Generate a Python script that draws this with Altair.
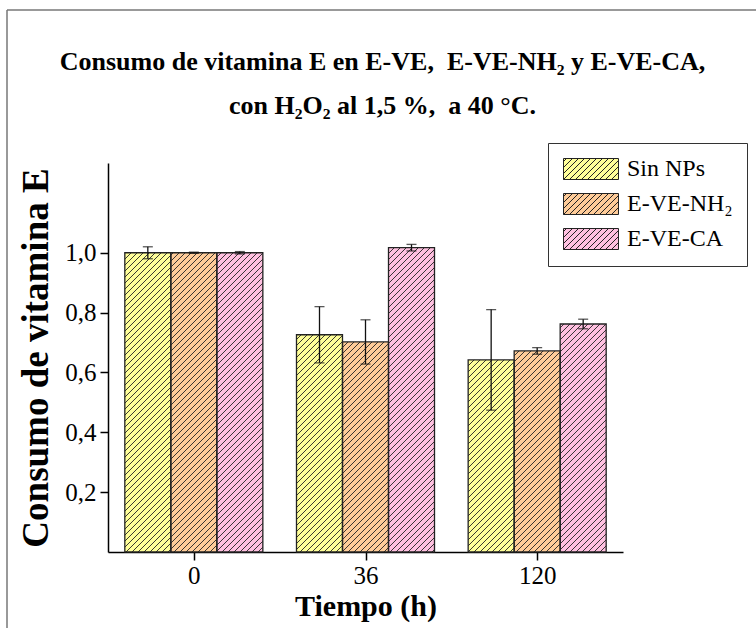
import json
import math
import pandas as pd
import altair as alt

# ---------------- data ----------------
tiempos = ["0", "36", "120"]
series = ["Sin NPs", "E-VE-NH\u2082", "E-VE-CA"]
colors = ["#FFFF99", "#FFCC99", "#FFC0E0"]

sin_nps = [1.000, 0.726, 0.642]
sin_nps_err = [0.020, 0.094, 0.168]
nh2 = [1.000, 0.702, 0.672]
nh2_err = [0.002, 0.074, 0.011]
ca = [1.000, 1.017, 0.762]
ca_err = [0.004, 0.011, 0.016]

y_ticks = [0.2, 0.4, 0.6, 0.8, 1.0]

title_lines = ["Consumo de vitamina E en E-VE,\u00a0 E-VE-NH\u2082 y E-VE-CA,",
               "con H\u2082O\u2082 al 1,5 %,\u00a0 a 40 \u00b0C."]

# ---------------- layout / style ----------------
FONT = "'Liberation Serif', 'Times New Roman', 'DejaVu Serif', serif"
W, H = 515, 389
Y_MAX = 1.3
BAR_W = 0.268          # bar width as fraction of a group step
HATCH = 6.0            # hatch spacing (px, horizontal)
PX_X = W / len(tiempos)
PX_Y = H / Y_MAX

vals = [sin_nps, nh2, ca]
errs = [sin_nps_err, nh2_err, ca_err]

rows = []
for s, name in enumerate(series):
    for t, tl in enumerate(tiempos):
        xc = t + (s - 1) * BAR_W
        rows.append(dict(serie=name, tiempo=tl, xc=xc, xl=xc - BAR_W / 2,
                         xr=xc + BAR_W / 2, value=vals[s][t], y0=0.0,
                         lo=vals[s][t] - errs[s][t], hi=vals[s][t] + errs[s][t]))
df = pd.DataFrame(rows)

# hatch segments ("/" at 45 degrees in screen space), clipped to each bar
hrows = []
for r in rows:
    X0 = (r["xl"] + 0.5) * PX_X
    X1 = (r["xr"] + 0.5) * PX_X
    Ht = r["value"] * PX_Y
    k0 = math.floor(-X1 / HATCH)
    k1 = math.ceil((Ht - X0) / HATCH)
    for k in range(k0, k1 + 1):
        c = k * HATCH
        xa = max(X0, -c)
        xb = min(X1, Ht - c)
        if xb - xa > 0.4:
            hrows.append(dict(hx1=xa / PX_X - 0.5, hy1=(xa + c) / PX_Y,
                              hx2=xb / PX_X - 0.5, hy2=(xb + c) / PX_Y))
hdf = pd.DataFrame(hrows)

# legend symbol: hatched rectangle as a custom path
R = 10.5
LW, LH = 55.0, 21.0
def u(px, py):
    return f"{px / R - 1:.3f},{1 - py / R:.3f}"
path = f"M{u(0,0)}L{u(LW,0)}L{u(LW,LH)}L{u(0,LH)}Z"
for k in range(math.floor(-LW / HATCH), math.ceil(LH / HATCH) + 1):
    c = k * HATCH
    xa = max(0.0, -c)
    xb = min(LW, LH - c)
    if xb - xa > 0.4:
        path += f"M{u(xa, xa + c)}L{u(xb, xb + c)}"

x_scale = alt.Scale(domain=[-0.5, len(tiempos) - 0.5], nice=False, zero=False)
y_scale = alt.Scale(domain=[0, Y_MAX], nice=False)

x_axis = alt.Axis(values=list(range(len(tiempos))),
                  labelExpr=json.dumps(tiempos) + "[datum.value]",
                  title="Tiempo (h)", titleFont=FONT, titleFontSize=30,
                  titleFontWeight="bold", titleColor="black", titlePadding=3,
                  labelFont=FONT, labelFontSize=25, labelColor="black",
                  labelPadding=3, labelFlush=False,
                  tickSize=8, tickWidth=1.5, tickColor="black",
                  domainColor="black", domainWidth=1.5, grid=False)
y_axis = alt.Axis(values=y_ticks,
                  labelExpr="replace(format(datum.value, '.1f'), '.', ',')",
                  title="Consumo de vitamina E", titleFont=FONT, titleFontSize=37,
                  titleFontWeight="bold", titleColor="black", titlePadding=9,
                  labelFont=FONT, labelFontSize=25, labelColor="black",
                  labelPadding=4, tickSize=8, tickWidth=1.5, tickColor="black",
                  domainColor="black", domainWidth=1.5, grid=False)

def X(f):
    return alt.X(f, type="quantitative", scale=x_scale, axis=x_axis)

def Y(f):
    return alt.Y(f, type="quantitative", scale=y_scale, axis=y_axis)

base = alt.Chart(df)

bars = base.mark_rect(strokeWidth=0).encode(
    x=X("xl"), x2="xr", y=Y("value"), y2="y0",
    fill=alt.Fill("serie:N", sort=series,
                  scale=alt.Scale(domain=series, range=colors),
                  legend=alt.Legend(title=None, orient="none", legendX=440, legendY=-20,
                                    symbolType=path, symbolSize=441,
                                    symbolStrokeColor="#222", symbolStrokeWidth=1,
                                    symbolOpacity=1,
                                    labelFont=FONT, labelFontSize=24, labelColor="black",
                                    labelOffset=41, padding=14, rowPadding=9,
                                    strokeColor="#333", fillColor="white")),
)

hatch = alt.Chart(hdf).mark_rule(color="#222", strokeWidth=0.9).encode(
    x=X("hx1"), x2="hx2", y=Y("hy1"), y2="hy2"
)

outline = base.mark_rect(fillOpacity=0, stroke="#222", strokeWidth=1.3).encode(
    x=X("xl"), x2="xr", y=Y("value"), y2="y0"
)

err_rule = base.mark_rule(color="#111", strokeWidth=1.3).encode(
    x=X("xc"), y=Y("lo"), y2="hi"
)
err_lo = base.mark_tick(orient="horizontal", color="#111", size=10, thickness=1.3).encode(
    x=X("xc"), y=Y("lo")
)
err_hi = base.mark_tick(orient="horizontal", color="#111", size=10, thickness=1.3).encode(
    x=X("xc"), y=Y("hi")
)

one = pd.DataFrame({"a": [0]})
frame_left = alt.Chart(one).mark_rule(color="#777", strokeWidth=1.5).encode(
    x=alt.value(-101), y=alt.value(-153), y2=alt.value(480)
)
frame_top = alt.Chart(one).mark_rule(color="#777", strokeWidth=1.5).encode(
    x=alt.value(-101), x2=alt.value(660), y=alt.value(-153)
)

chart = alt.layer(
    bars, hatch, outline, err_rule, err_lo, err_hi, frame_left, frame_top
).properties(
    width=W, height=H,
    title=alt.TitleParams(
        title_lines,
        font=FONT, fontSize=26, fontWeight="bold", color="black",
        anchor="middle", frame="group", dx=17, lineHeight=44, offset=-110),
    autosize=alt.AutoSizeParams(type="none"),
    padding={"left": 108, "top": 163, "right": 133, "bottom": 76},
).configure(font=FONT).configure_view(strokeWidth=0)

chart.save("out.html", embed_options={"renderer": "svg", "actions": False})
